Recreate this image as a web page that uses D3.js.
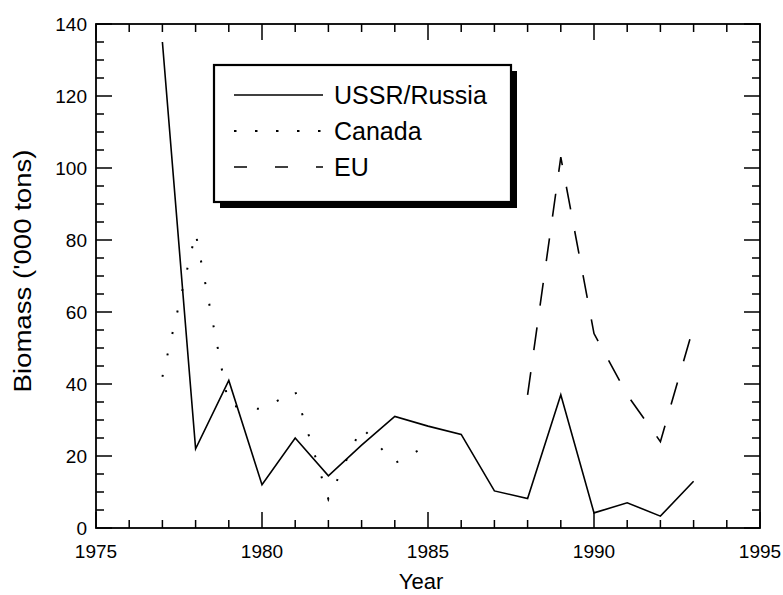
<!DOCTYPE html>
<html>
<head>
<meta charset="utf-8">
<script src="https://cdn.jsdelivr.net/npm/d3@7"></script>
<style>
  html, body { margin: 0; padding: 0; background: #fff; }
  svg { display: block; font-family: "Liberation Sans", Arial, Helvetica, sans-serif; }
</style>
</head>
<body>
<svg id="chart" width="783" height="595"></svg>
<script>
// ---- data ----
const ussrYears  = [1977, 1978, 1979, 1980, 1981, 1982, 1983, 1984, 1985, 1986, 1987, 1988, 1989, 1990, 1991, 1992, 1993];
const ussrValues = [135, 22, 41, 12, 25, 14.5, 23, 31, 28.3, 26, 10.3, 8.2, 37, 4.2, 7, 3.3, 13];
const canadaYears  = [1977, 1978, 1979, 1980, 1981, 1982, 1983, 1984, 1985];
const canadaValues = [42, 82, 34, 33, 38, 8, 28, 18, 23];
const euYears  = [1988, 1989, 1990, 1991, 1992, 1993];
const euValues = [37, 103, 54, 37, 24, 56];
const seriesNames = ["USSR/Russia", "Canada", "EU"];
const xTickLabels = [1975, 1980, 1985, 1990, 1995];
const yTickLabels = [0, 20, 40, 60, 80, 100, 120, 140];
const xLabel = "Year";
const yLabel = "Biomass ('000 tons)";

// ---- layout ----
const svg = d3.select("#chart");
const L = 96, R = 760, T = 24, B = 528;
const x = d3.scaleLinear().domain([1975, 1995]).range([L, R]);
const y = d3.scaleLinear().domain([0, 140]).range([B, T]);

const styles = {
  "USSR/Russia": { dash: null, legendDash: null, width: 1.6 },
  "Canada": { dash: "2,20", legendDash: "2.5,18.5", width: 2 },
  "EU": { dash: "23,22", legendDash: "13,28", width: 1.6 }
};

const series = [
  { name: seriesNames[0], pts: ussrYears.map((yr, i) => [yr, ussrValues[i]]) },
  { name: seriesNames[1], pts: canadaYears.map((yr, i) => [yr, canadaValues[i]]) },
  { name: seriesNames[2], pts: euYears.map((yr, i) => [yr, euValues[i]]) }
];

// ---- ticks (inward on all four sides), drawn as one path ----
const xTicksAll = d3.range(1975, 1996, 1);  // every year
const yTicksAll = d3.range(0, 141, 5);      // every 5
const majLen = 16, minLen = 8;
const xLen = d => (d % 5 === 0 ? majLen : minLen);
const yLen = d => (d % 20 === 0 ? majLen : minLen);
const tp = d3.path();
xTicksAll.forEach(d => {
  tp.moveTo(x(d), B); tp.lineTo(x(d), B - xLen(d));
  tp.moveTo(x(d), T); tp.lineTo(x(d), T + xLen(d));
});
yTicksAll.forEach(d => {
  tp.moveTo(L, y(d)); tp.lineTo(L + yLen(d), y(d));
  tp.moveTo(R, y(d)); tp.lineTo(R - yLen(d), y(d));
});
svg.append("path").attr("d", tp.toString())
  .attr("fill", "none").attr("stroke", "#000").attr("stroke-width", 1.5);

// tick labels
svg.append("g").selectAll("text").data(xTickLabels).join("text")
  .attr("x", d => x(d)).attr("y", 558).attr("text-anchor", "middle")
  .attr("font-size", 19).attr("fill", "#000").text(d => d);
svg.append("g").selectAll("text").data(yTickLabels).join("text")
  .attr("x", L - 9).attr("y", d => y(d)).attr("dy", "0.36em").attr("text-anchor", "end")
  .attr("font-size", 19).attr("fill", "#000").text(d => d);

// frame
svg.append("rect").attr("x", L).attr("y", T).attr("width", R - L).attr("height", B - T)
  .attr("fill", "none").attr("stroke", "#000").attr("stroke-width", 1.8);

// axis titles
svg.append("text").attr("x", 421).attr("y", 589).attr("text-anchor", "middle")
  .attr("font-size", 22).attr("fill", "#000").text(xLabel);
svg.append("text").attr("transform", `translate(31,271) scale(1,1.15) rotate(-90)`).attr("text-anchor", "middle")
  .attr("font-size", 24).attr("fill", "#000").text(yLabel);

// ---- lines ----
const line = d3.line().x(d => x(d[0])).y(d => y(d[1]));
svg.append("g").selectAll("path").data(series).join("path")
  .attr("d", d => line(d.pts))
  .attr("fill", "none").attr("stroke", "#000")
  .attr("stroke-width", d => styles[d.name].width)
  .attr("stroke-dasharray", d => styles[d.name].dash)
  .attr("stroke-linejoin", "miter");

// ---- legend ----
const lgX = 214, lgY = 65, lgW = 297, lgH = 137, sh = 6;
const lg = svg.append("g");
lg.append("rect").attr("x", lgX + sh).attr("y", lgY + sh).attr("width", lgW).attr("height", lgH).attr("fill", "#000");
lg.append("rect").attr("x", lgX).attr("y", lgY).attr("width", lgW).attr("height", lgH)
  .attr("fill", "#fff").attr("stroke", "#000").attr("stroke-width", 2.2);
const rowY = d3.scalePoint().domain(seriesNames).range([95, 167]);
const items = lg.selectAll("g.item").data(seriesNames).join("g").attr("class", "item");
items.append("line").attr("x1", 234).attr("x2", 323)
  .attr("y1", d => rowY(d)).attr("y2", d => rowY(d))
  .attr("stroke", "#000").attr("stroke-width", d => styles[d].width)
  .attr("stroke-dasharray", d => styles[d].legendDash);
items.append("text").attr("x", 334).attr("y", d => rowY(d)).attr("dy", "0.36em")
  .attr("font-size", 25).attr("fill", "#000").text(d => d);
</script>
</body>
</html>
